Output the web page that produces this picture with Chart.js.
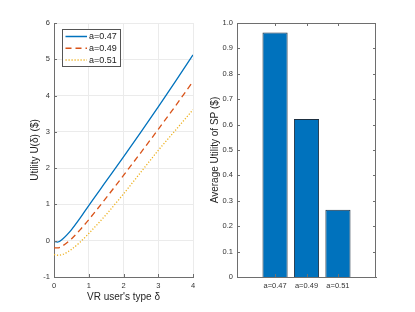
<!DOCTYPE html>
<html lang="en">
<head>
    <meta charset="UTF-8">
    <title>Utility vs type</title>
    <script src="https://cdn.jsdelivr.net/npm/chart.js"></script>
    <style>
        html, body { margin: 0; padding: 0; background: #fff; }
        #wrap { position: relative; width: 415px; height: 312px; }
        #wrap canvas { position: absolute; left: 0; top: 0; }
    </style>
</head>
<body>
<div id="wrap">
    <canvas id="leftChart" width="415" height="312"></canvas>
    <canvas id="rightChart" width="415" height="312"></canvas>
</div>

<script>
    // left panel: utility vs user's type
    const deltas = [0, 0.1, 0.25, 0.5, 0.75, 1, 1.5, 2, 2.5, 3, 3.5, 4];
    const seriesNames = ['a=0.47', 'a=0.49', 'a=0.51'];
    const uA047 = [-0.02, -0.04, 0.05, 0.30, 0.62, 0.97, 1.64, 2.31, 2.99, 3.69, 4.40, 5.12];
    const uA049 = [-0.20, -0.20, -0.14, 0.05, 0.30, 0.58, 1.18, 1.80, 2.43, 3.07, 3.72, 4.39];
    const uA051 = [-0.38, -0.40, -0.38, -0.24, -0.04, 0.20, 0.72, 1.29, 1.89, 2.49, 3.05, 3.61];

    // right panel: average utility of SP
    const barLabels = ['a=0.47', 'a=0.49', 'a=0.51'];
    const spUtility = [0.963, 0.622, 0.265];

    const AXIS = '#6e6e6e';
    const TICK_TXT = '#333';
    const tickFont = { family: 'Liberation Sans', size: 7.5 };
    const titleFont = { family: 'Liberation Sans', size: 10 };

    // matlab style ticks pointing into the plot, optional box
    const innerTicks = {
        id: 'innerTicks',
        afterDraw(chart, args, opts) {
            const { ctx, chartArea: ca, scales } = chart;
            const len = 3;
            ctx.save();
            ctx.strokeStyle = AXIS;
            ctx.lineWidth = 1;
            ctx.beginPath();
            if (opts.box) {
                ctx.moveTo(ca.left, ca.top + 0.5);
                ctx.lineTo(ca.right, ca.top + 0.5);
                ctx.moveTo(ca.right - 0.5, ca.top);
                ctx.lineTo(ca.right - 0.5, ca.bottom);
            }
            scales.x.ticks.forEach(t => {
                const px = Math.round(scales.x.getPixelForValue(t.value)) + 0.5;
                ctx.moveTo(px, ca.bottom);
                ctx.lineTo(px, ca.bottom - len);
                if (opts.box) {
                    ctx.moveTo(px, ca.top);
                    ctx.lineTo(px, ca.top + len);
                }
            });
            scales.y.ticks.forEach(t => {
                const py = Math.round(scales.y.getPixelForValue(t.value)) + 0.5;
                ctx.moveTo(ca.left, py);
                ctx.lineTo(ca.left + len, py);
                if (opts.box) {
                    ctx.moveTo(ca.right, py);
                    ctx.lineTo(ca.right - len, py);
                }
            });
            ctx.stroke();
            ctx.restore();
        }
    };

    // legend box inside the upper left corner
    const insideLegend = {
        id: 'insideLegend',
        afterDatasetsDraw(chart) {
            const { ctx, chartArea: ca } = chart;
            const x0 = ca.left + 8, y0 = ca.top + 6, w = 58, h = 37;
            ctx.save();
            ctx.fillStyle = '#fff';
            ctx.fillRect(x0, y0, w, h);
            ctx.strokeStyle = '#555';
            ctx.lineWidth = 1;
            ctx.strokeRect(x0 + 0.5, y0 + 0.5, w, h);
            ctx.font = '9px "Liberation Sans"';
            ctx.textBaseline = 'middle';
            chart.data.datasets.forEach((ds, i) => {
                const y = y0 + 7.5 + i * 11.7;
                ctx.strokeStyle = ds.borderColor;
                ctx.lineWidth = ds.borderWidth + 0.2;
                ctx.setLineDash(ds.borderDash || []);
                ctx.beginPath();
                ctx.moveTo(x0 + 3.5, y);
                ctx.lineTo(x0 + 25, y);
                ctx.stroke();
                ctx.setLineDash([]);
                ctx.fillStyle = '#222';
                ctx.fillText(ds.label, x0 + 27, y + 0.5);
            });
            ctx.restore();
        }
    };

    const toPts = arr => deltas.map((d, i) => ({ x: d, y: arr[i] }));

    new Chart(document.getElementById('leftChart'), {
        type: 'line',
        data: {
            datasets: [
                { label: seriesNames[0], data: toPts(uA047), borderColor: '#0072BD', borderWidth: 1.3 },
                { label: seriesNames[1], data: toPts(uA049), borderColor: '#D95319', borderWidth: 1.3, borderDash: [6, 4] },
                { label: seriesNames[2], data: toPts(uA051), borderColor: '#EDB120', borderWidth: 1.3, borderDash: [1.2, 1.8] }
            ]
        },
        options: {
            responsive: false,
            devicePixelRatio: 1,
            animation: false,
            layout: { padding: { left: 0, top: 23, right: 222, bottom: 0 } },
            elements: { point: { radius: 0 }, line: { cubicInterpolationMode: 'monotone', fill: false } },
            plugins: { legend: { display: false }, tooltip: { enabled: false }, innerTicks: { box: false } },
            scales: {
                x: {
                    type: 'linear', min: 0, max: 4,
                    ticks: { stepSize: 1, font: tickFont, color: TICK_TXT, padding: 4, maxRotation: 0 },
                    grid: { color: '#ebebeb', drawTicks: false },
                    border: { color: AXIS },
                    title: { display: true, text: "VR user's type δ", font: titleFont, color: '#262626', padding: { top: 0, bottom: 9 } },
                    afterFit: s => { s.height = 35; }
                },
                y: {
                    min: -1, max: 6,
                    ticks: { stepSize: 1, font: tickFont, color: TICK_TXT, padding: 4 },
                    grid: { color: '#ebebeb', drawTicks: false },
                    border: { color: AXIS },
                    title: { display: true, text: 'Utility U(δ) ($)', font: titleFont, color: '#262626', padding: { top: 29, bottom: 0 } },
                    afterFit: s => { s.width = 54; }
                }
            }
        },
        plugins: [innerTicks, insideLegend]
    });

    new Chart(document.getElementById('rightChart'), {
        type: 'bar',
        data: {
            datasets: [{
                label: 'Average Utility of SP',
                data: spUtility.map((v, i) => ({ x: i + 1, y: v })),
                backgroundColor: '#0072BD',
                borderColor: '#1d2f40',
                borderWidth: 1,
                barPercentage: 0.8,
                categoryPercentage: 1
            }]
        },
        options: {
            responsive: false,
            devicePixelRatio: 1,
            animation: false,
            layout: { padding: { left: 197, top: 23, right: 39, bottom: 0 } },
            plugins: { legend: { display: false }, tooltip: { enabled: false }, innerTicks: { box: true } },
            scales: {
                x: {
                    type: 'linear', min: -0.21, max: 4.21, offset: false,
                    afterBuildTicks: s => { s.ticks = barLabels.map((l, i) => ({ value: i + 1 })); },
                    ticks: { font: tickFont, color: TICK_TXT, padding: 4, maxRotation: 0,
                        callback: (v, i) => barLabels[i] },
                    grid: { display: false, drawTicks: false },
                    border: { color: AXIS },
                    afterFit: s => { s.height = 35; }
                },
                y: {
                    min: 0, max: 1,
                    ticks: { stepSize: 0.1, font: tickFont, color: TICK_TXT, padding: 4 },
                    grid: { display: false, drawTicks: false },
                    border: { color: AXIS },
                    title: { display: true, text: 'Average Utility of SP ($)', font: titleFont, color: '#262626', padding: { top: 12, bottom: 0 } },
                    afterFit: s => { s.width = 40; }
                }
            }
        },
        plugins: [innerTicks]
    });
</script>
</body>
</html>
